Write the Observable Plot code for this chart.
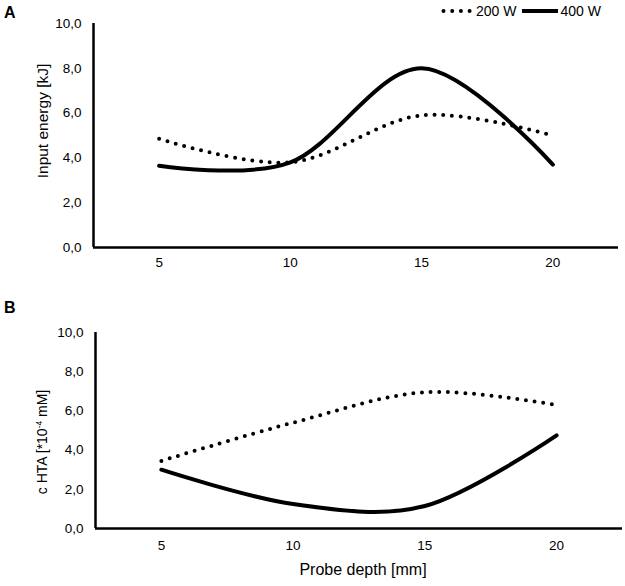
<!DOCTYPE html>
<html><head><meta charset="utf-8">
<script src="https://cdn.jsdelivr.net/npm/d3@7"></script>
<script src="https://cdn.jsdelivr.net/npm/@observablehq/plot@0.6"></script>
<style>
body{margin:0;background:#fff;}
#chart{position:relative;width:625px;height:586px;font-family:"Liberation Sans",Arial,sans-serif;color:#000;overflow:hidden;}
.panel{position:absolute;left:0;}
.lbl{position:absolute;white-space:nowrap;}
.rot{transform:translate(-50%,-50%) rotate(-90deg);}
.ctr{transform:translate(-50%,-50%);}
.letter{font-weight:bold;font-size:16px;}
sup{font-size:0.6em;vertical-align:0.6em;line-height:0;}
</style></head><body><div id="chart"></div>
<script>
const depths = [5, 10, 15, 20];
const seriesNames = ["200 W", "400 W"];
const energy200 = [4.85, 3.8, 5.9, 5.0];
const energy400 = [3.65, 3.8, 8.0, 3.7];
const hta200 = [3.45, 5.4, 6.95, 6.3];
const hta400 = [3.0, 1.25, 1.15, 4.75];
const yTicks = [0, 2, 4, 6, 8, 10];
const fmt = d => d.toFixed(1).replace(".", ",");
const FONT = '"Liberation Sans", Arial, sans-serif';

function panel(a, b, o) {
  const rowsA = depths.map((d, i) => ({depth: d, s: seriesNames[0], v: a[i]}));
  const rowsB = depths.map((d, i) => ({depth: d, s: seriesNames[1], v: b[i]}));
  return Plot.plot({
    width: 625, height: o.height,
    marginTop: o.mt, marginBottom: o.mb, marginLeft: o.ml, marginRight: o.mr,
    style: {fontFamily: FONT, color: "#000", background: "transparent", overflow: "visible"},
    x: {domain: [2.5, 22.5], axis: null},
    y: {domain: [0, 10], axis: null},
    marks: [
      Plot.text(yTicks, {x: 2.5, y: d => d, text: fmt, dx: -12, textAnchor: "end", fontSize: 13.5, fill: "#000", fontFamily: FONT}),
      Plot.text(depths, {x: d => d, y: 0, text: d => String(d), dy: o.xdy, fontSize: 13.5, fill: "#000", fontFamily: FONT}),
      Plot.ruleX([2.5], {y1: 0, y2: 10, stroke: "#000", strokeWidth: 2.5}),
      Plot.ruleY([0], {stroke: "#000", strokeWidth: 2.5}),
      Plot.line(rowsA, {x: "depth", y: "v", curve: "cardinal", tension: 0, stroke: "#000", strokeWidth: 4, strokeDasharray: "0,8.7", strokeLinecap: "round"}),
      Plot.line(rowsB, {x: "depth", y: "v", curve: "cardinal", tension: 0, stroke: "#000", strokeWidth: 4})
    ]
  });
}

const root = document.getElementById("chart");
const pA = panel(energy200, energy400, {height: 280, mt: 23, mb: 33, ml: 93, mr: 7, xdy: 15});
pA.classList.add("panel"); pA.style.top = "0px";
root.appendChild(pA);
const pB = panel(hta200, hta400, {height: 306, mt: 52, mb: 58, ml: 95, mr: 3, xdy: 17});
pB.classList.add("panel"); pB.style.top = "280px";
root.appendChild(pB);

function addLabel(html, x, y, cls, size) {
  const d = document.createElement("div");
  d.className = "lbl " + cls;
  d.style.left = x + "px"; d.style.top = y + "px";
  if (size) d.style.fontSize = size + "px";
  d.innerHTML = html;
  root.appendChild(d);
  return d;
}
addLabel("A", 4, 4, "letter");
addLabel("B", 4, 299, "letter");
addLabel("Input energy [kJ]", 43, 121, "rot", 15.5);
addLabel("c HTA [*10<sup>-4</sup> mM]", 42, 442, "rot", 14);
addLabel("Probe depth [mm]", 363, 570, "ctr", 16);

// legend
const leg = document.createElement("div");
leg.className = "lbl";
leg.style.left = "440px"; leg.style.top = "2px"; leg.style.fontSize = "14px";
leg.innerHTML =
  '<svg width="36" height="18" style="vertical-align:middle"><line x1="3.5" x2="33" y1="9" y2="9" stroke="#000" stroke-width="4" stroke-dasharray="0,8.7" stroke-linecap="round"/></svg>' +
  '<span style="vertical-align:middle">' + seriesNames[0] + '</span>' +
  '<svg width="40" height="18" style="vertical-align:middle;margin-left:4px"><line x1="2" x2="38" y1="9" y2="9" stroke="#000" stroke-width="4"/></svg>' +
  '<span style="vertical-align:middle">' + seriesNames[1] + '</span>';
root.appendChild(leg);
</script>
</body></html>
